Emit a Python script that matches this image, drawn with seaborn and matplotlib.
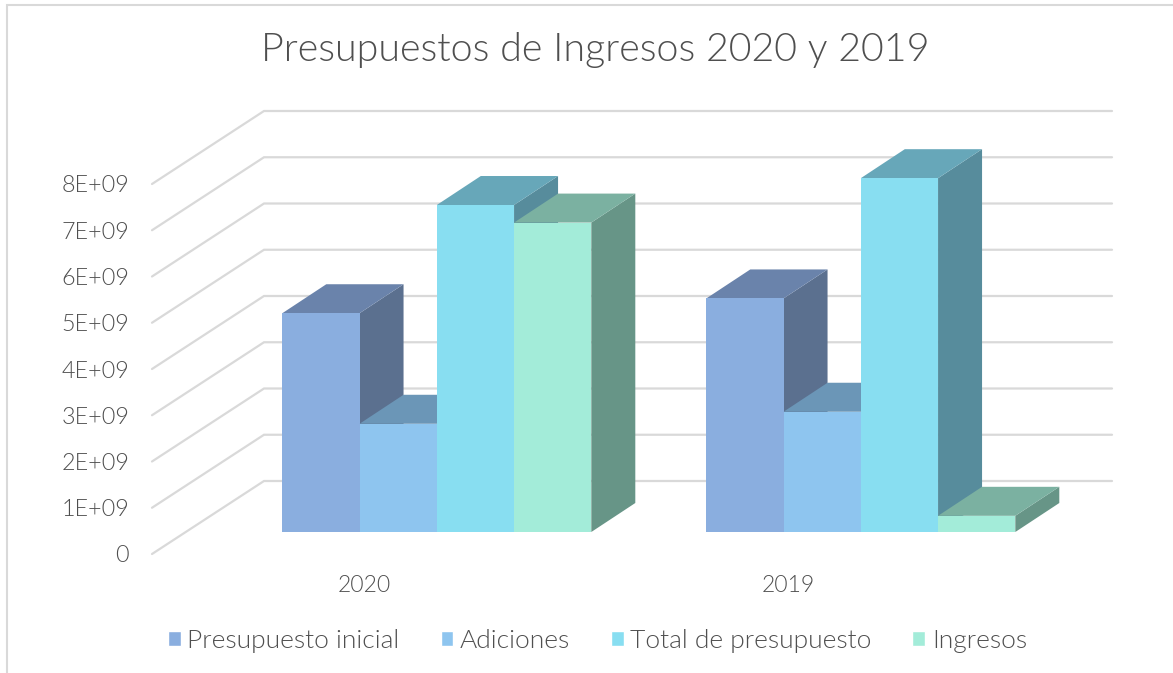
import matplotlib
matplotlib.use("Agg")
import matplotlib.pyplot as plt
import seaborn as sns
import pandas as pd
from matplotlib.lines import Line2D
from matplotlib.patches import Polygon
from matplotlib.transforms import Affine2D

years = ["2020", "2019"]
series = ["Presupuesto inicial", "Adiciones", "Total de presupuesto", "Ingresos"]
inicial = [4.73e9, 5.05e9]
adiciones = [2.34e9, 2.60e9]
total = [7.07e9, 7.65e9]
ingresos = [6.69e9, 0.35e9]
y_ticks = [0, 1e9, 2e9, 3e9, 4e9, 5e9, 6e9, 7e9, 8e9]
y_labels = ["0", "1E+09", "2E+09", "3E+09", "4E+09", "5E+09", "6E+09", "7E+09", "8E+09"]
title = "Presupuestos de Ingresos 2020 y 2019"

front = ["#8AAEDF", "#8EC5EF", "#88DEF1", "#A3ECD9"]
top = ["#6A83AB", "#6B96B7", "#67A7B9", "#7BB1A1"]
side = ["#5B708F", "#5B7F9B", "#578C9C", "#679587"]
text_c = "#4F4F4F"
grid_c = "#D9D9D9"

W, H = 1173, 673
sns.set_theme(style="white")
plt.rcParams["font.family"] = ["Lato", "DejaVu Sans"]
plt.rcParams["font.weight"] = 300

df = pd.DataFrame({
    "Año": years * 4,
    "Serie": [s for s in series for _ in years],
    "Valor": inicial + adiciones + total + ingresos,
})

fig = plt.figure(figsize=(W / 100, H / 100), dpi=100)
fig.patch.set_facecolor("white")
ax = fig.add_axes([152 / W, 1 - 554 / H, 848 / W, 370 / H])
ax.patch.set_alpha(0)

sns.barplot(data=df, x="Año", y="Valor", hue="Serie", order=years, hue_order=series,
            palette=front, saturation=1, width=0.7288, gap=0, ax=ax)
ax.set_xlim(-0.5, 1.5)
ax.set_ylim(0, 8e9)
ax.set_xlabel("")
ax.set_ylabel("")
ax.set_yticks(y_ticks, y_labels)
ax.tick_params(axis="y", length=0, pad=16.5, labelsize=16.8, labelcolor=text_c)
ax.tick_params(axis="x", length=0, pad=15, labelsize=16.5, labelcolor=text_c)
for s in ax.spines.values():
    s.set_visible(False)

ux = 2 / 848            # data units per pixel
uy = 8e9 / 370

# walls: diagonal then back gridline
for v in y_ticks:
    ax.plot([-0.5, -0.5 + 112 * ux, 1.5 + 112 * ux],
            [v, v + 73 * uy, v + 73 * uy],
            color=grid_c, lw=1.6, clip_on=False, zorder=1, solid_joinstyle="miter")

# bars pulled into the floor, with their top and side faces
shift = ax.transData + Affine2D().translate(72.8, 22)
dx, dy = 44 * ux, 29 * uy
for i, cont in enumerate(ax.containers):
    for bar in cont:
        x0, x1, h = bar.get_x(), bar.get_x() + bar.get_width(), bar.get_height()
        z = 3 + i
        bar.set_transform(shift)
        bar.set_clip_on(False)
        bar.set_zorder(z + 0.2)
        bar.set_linewidth(0)
        ax.add_patch(Polygon([(x1, 0), (x1, h), (x1 + dx, h + dy), (x1 + dx, dy)],
                             closed=True, fc=side[i], ec="none", transform=shift,
                             clip_on=False, zorder=z))
        ax.add_patch(Polygon([(x0, h), (x1, h), (x1 + dx, h + dy), (x0 + dx, h + dy)],
                             closed=True, fc=top[i], ec="none", transform=shift,
                             clip_on=False, zorder=z + 0.1))

handles, labels = ax.get_legend_handles_labels()
ax.legend(handles, labels, ncol=4, frameon=False, loc="center",
          bbox_to_anchor=(597.5 / W, 1 - 641 / H), bbox_transform=fig.transFigure,
          fontsize=19, labelcolor=text_c, handlelength=0.49, handleheight=0.49,
          handletextpad=0.24, columnspacing=1.55, borderpad=0, borderaxespad=0)

fig.text(595 / W, 1 - 50 / H, title, ha="center", va="center", fontsize=28.4, color=text_c)

# chart frame: only the left and top edges fall inside the picture
fig.add_artist(Line2D([6.5 / W, 6.5 / W, 1], [0, 1 - 5 / H, 1 - 5 / H],
                      transform=fig.transFigure, color=grid_c, lw=1.5,
                      solid_joinstyle="miter"))

fig.savefig("out.png", dpi=100)
